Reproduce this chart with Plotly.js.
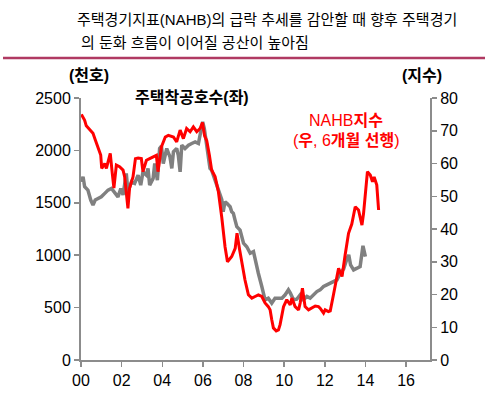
<!DOCTYPE html>
<html>
<head>
<meta charset="utf-8">
<script src="https://cdn.plot.ly/plotly-3.0.1.min.js"></script>
<style>html,body{margin:0;padding:0;background:#fff;}#chart{width:490px;height:399px;}</style>
</head>
<body>
<div id="chart"></div>
<script>
// Housing starts (thousand units, left axis); x = years since 2000
const startsX = [0.02,0.10,0.18,0.34,0.48,0.59,0.70,0.84,1.00,1.17,1.33,1.50,1.66,1.82,1.96,2.07,2.23,2.31,2.48,2.64,2.81,2.94,3.05,3.22,3.30,3.38,3.55,3.63,3.76,3.87,3.96,4.05,4.22,4.38,4.47,4.55,4.71,4.79,4.88,4.96,5.12,5.29,5.45,5.62,5.78,5.86,5.99,6.07,6.16,6.27,6.35,6.43,6.60,6.76,6.85,6.93,7.00,7.09,7.18,7.26,7.34,7.42,7.50,7.59,7.67,7.83,8.00,8.16,8.33,8.49,8.57,8.73,8.90,9.06,9.22,9.39,9.55,9.72,9.89,10.05,10.21,10.30,10.46,10.62,10.79,10.95,11.12,11.28,11.45,11.61,11.77,11.94,12.10,12.27,12.43,12.60,12.76,12.93,13.10,13.18,13.27,13.42,13.59,13.74,13.88,14.00];
const startsY = [1700,1748,1653,1621,1526,1478,1526,1542,1557,1590,1621,1637,1590,1557,1637,1574,1780,1605,1700,1685,1764,1669,1795,1764,1828,1669,1733,1875,1716,2018,2040,1875,2018,1938,1828,1986,2018,1954,1795,2050,2018,2050,2066,2081,2066,2145,2272,2209,2081,1923,1828,1812,1720,1620,1574,1530,1415,1510,1495,1478,1462,1415,1399,1330,1272,1240,1114,1081,1019,1034,955,828,701,574,590,543,590,590,590,622,669,640,574,580,622,574,606,590,622,653,669,701,717,730,748,764,828,870,971,1003,907,860,876,891,1090,986];

// NAHB index (right axis), shifted 6 months ahead
const nahbX = [0.02,0.18,0.26,0.43,0.59,0.71,0.84,0.97,1.02,1.17,1.25,1.44,1.54,1.62,1.74,1.90,2.07,2.15,2.31,2.39,2.56,2.68,2.81,2.97,3.05,3.22,3.38,3.55,3.71,3.79,3.96,4.15,4.30,4.55,4.71,4.88,5.04,5.20,5.37,5.53,5.70,5.86,5.98,6.08,6.19,6.32,6.43,6.60,6.76,6.93,7.09,7.21,7.42,7.59,7.68,7.80,7.91,8.07,8.24,8.41,8.57,8.73,8.90,9.06,9.22,9.31,9.39,9.47,9.61,9.72,9.80,9.89,9.97,10.13,10.30,10.38,10.54,10.71,10.79,10.90,11.03,11.20,11.32,11.53,11.69,11.77,11.94,12.02,12.18,12.27,12.43,12.52,12.60,12.68,12.76,12.85,13.00,13.17,13.33,13.50,13.66,13.83,13.91,13.99,14.10,14.24,14.35,14.43,14.56,14.65];
const nahbY = [75.0,73.2,71.5,70.2,69.2,67.1,64.6,62.6,58.5,60.0,58.5,63.1,57.0,52.5,59.5,59.0,58.0,55.9,46.3,52.4,55.9,61.5,61.7,61.5,57.5,61.0,61.5,62.0,62.5,57.5,65.1,68.1,68.6,68.1,66.6,70.2,67.6,70.7,69.7,71.2,69.7,70.7,72.5,68.5,67.0,62.5,58.0,56.0,51.5,43.5,34.6,30.0,31.6,34.1,38.7,34.0,29.6,24.5,19.9,18.9,19.4,19.9,19.4,17.4,16.3,15.3,12.3,9.8,8.9,9.2,10.8,14.3,16.3,18.4,16.8,18.9,16.3,15.3,17.4,21.9,16.3,15.3,15.8,16.5,16.3,15.8,14.3,15.3,14.8,15.0,20.0,22.4,25.5,28.0,27.0,25.5,32.0,38.7,41.5,46.8,45.8,41.2,44.8,50.9,57.5,56.5,54.4,55.9,53.4,45.8];

const xTickVals = [0,2,4,6,8,10,12,14,16];
const xTickText = ['00','02','04','06','08','10','12','14','16'];
const yLeftTicks = [0,500,1000,1500,2000,2500];
const yRightTicks = [0,10,20,30,40,50,60,70,80];

const titleLine1 = '주택경기지표(NAHB)의 급락 추세를 감안할 때 향후 주택경기';
const titleLine2 = '의 둔화 흐름이 이어질 공산이 높아짐';

const KFONT = 'Liberation Sans, Arial, Noto Sans CJK KR, sans-serif';
const axisColor = '#8c8c8c';

const traces = [
  {x: startsX, y: startsY, type: 'scatter', mode: 'lines', yaxis: 'y',
   line: {color: '#808080', width: 3.5}, hoverinfo: 'skip'},
  {x: nahbX, y: nahbY, type: 'scatter', mode: 'lines', yaxis: 'y2',
   line: {color: '#ff0000', width: 3}, hoverinfo: 'skip'}
];

const tickFont = {family: 'Liberation Sans, Arial, sans-serif', size: 16, color: '#000'};

const layout = {
  width: 490, height: 399,
  margin: {l: 81, r: 60, t: 98, b: 39},
  paper_bgcolor: '#fff', plot_bgcolor: '#fff',
  showlegend: false,
  xaxis: {range: [0, 17.18], tickvals: xTickVals, ticktext: xTickText,
    showgrid: false, zeroline: false, showline: true, linecolor: axisColor, linewidth: 2,
    ticks: 'outside', ticklen: 5, tickcolor: axisColor, tickwidth: 1.5, tickfont: tickFont},
  yaxis: {range: [0, 2500], tickvals: yLeftTicks,
    showgrid: false, zeroline: false, showline: true, linecolor: axisColor, linewidth: 2,
    ticks: 'outside', ticklen: 5, tickcolor: axisColor, tickwidth: 1.5, tickfont: tickFont},
  yaxis2: {range: [0, 80], tickvals: yRightTicks, overlaying: 'y', side: 'right', anchor: 'x',
    showgrid: false, zeroline: false, showline: true, linecolor: axisColor, linewidth: 2,
    ticks: 'outside', ticklen: 5, tickcolor: axisColor, tickwidth: 1.5, tickfont: tickFont},
  shapes: [
    {type: 'line', xref: 'paper', yref: 'paper', x0: -0.2235, x1: 1.1576, y0: 1.1527, y1: 1.1527,
     line: {color: '#b03a62', width: 2.5}}
  ],
  annotations: [
    {text: titleLine1, xref: 'paper', yref: 'paper', x: -0.0172, y: 1.3015, xanchor: 'left', yanchor: 'middle',
     showarrow: false, font: {family: KFONT, size: 15, color: '#000'}},
    {text: titleLine2, xref: 'paper', yref: 'paper', x: -0.0057, y: 1.2118, xanchor: 'left', yanchor: 'middle',
     showarrow: false, font: {family: KFONT, size: 15, color: '#000'}},
    {text: '<b>(천호)</b>', xref: 'paper', yref: 'paper', x: -0.0401, y: 1.084, xanchor: 'left', yanchor: 'middle',
     showarrow: false, font: {family: KFONT, size: 16, color: '#000'}},
    {text: '<b>주택착공호수(좌)</b>', xref: 'paper', yref: 'paper', x: 0.149, y: 1.0038, xanchor: 'left', yanchor: 'middle',
     showarrow: false, font: {family: KFONT, size: 16, color: '#000'}},
    {text: '<b>(지수)</b>', xref: 'paper', yref: 'paper', x: 0.914, y: 1.084, xanchor: 'left', yanchor: 'middle',
     showarrow: false, font: {family: KFONT, size: 16, color: '#000'}},
    {text: 'NAHB<b>지수</b>', xref: 'paper', yref: 'paper', x: 0.759, y: 0.916, xanchor: 'center', yanchor: 'middle',
     showarrow: false, font: {family: KFONT, size: 16, color: '#ff0000'}},
    {text: '(<b>우</b>, 6<b>개월 선행</b>)', xref: 'paper', yref: 'paper', x: 0.761, y: 0.8397, xanchor: 'center', yanchor: 'middle',
     showarrow: false, font: {family: KFONT, size: 16, color: '#ff0000'}}
  ]
};

Plotly.newPlot('chart', traces, layout, {staticPlot: true, displayModeBar: false});
</script>
</body>
</html>
